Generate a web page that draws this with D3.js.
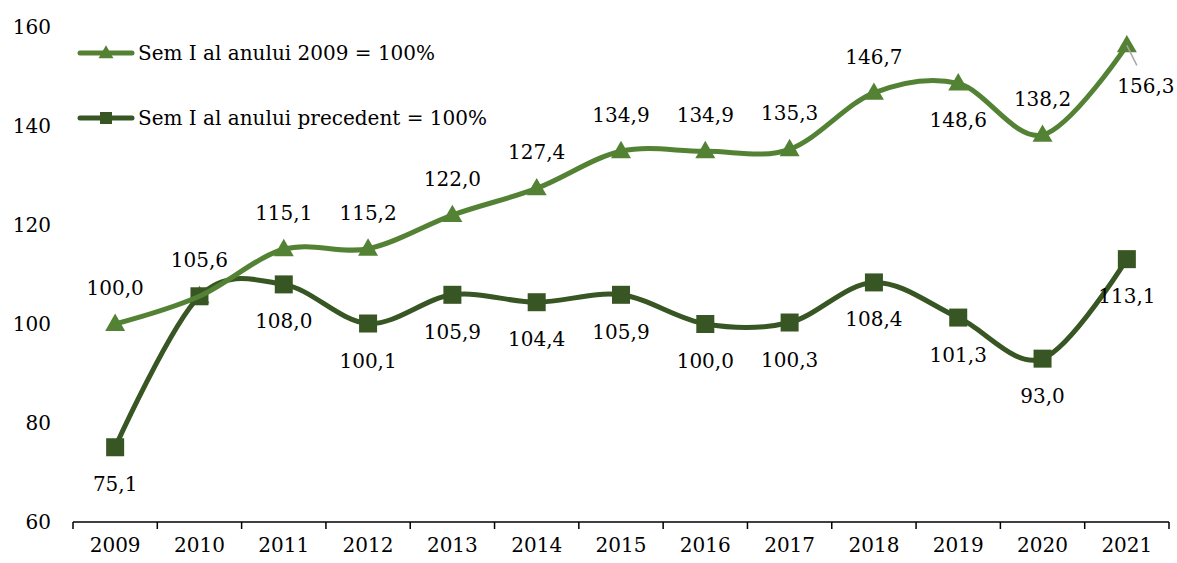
<!DOCTYPE html>
<html>
<head>
<meta charset="utf-8">
<script src="https://cdn.jsdelivr.net/npm/d3@7"></script>
<style>
  body { margin: 0; background: #fff; }
  svg { display: block; }
  text { font-family: "DejaVu Serif", serif; fill: #000; }
</style>
</head>
<body>
<svg id="chart" width="1177" height="563"></svg>
<script>
const years = ["2009","2010","2011","2012","2013","2014","2015","2016","2017","2018","2019","2020","2021"];
const series1Name = "Sem I al anului 2009 = 100%";
const series2Name = "Sem I al anului precedent = 100%";
const series1 = [100.0, 105.6, 115.1, 115.2, 122.0, 127.4, 134.9, 134.9, 135.3, 146.7, 148.6, 138.2, 156.3];
const series2 = [75.1, 105.6, 108.0, 100.1, 105.9, 104.4, 105.9, 100.0, 100.3, 108.4, 101.3, 93.0, 113.1];
const yTicks = [60, 80, 100, 120, 140, 160];
// label placement hints
const labelPos1 = ["above","above","above","above","above","above","above","above","above","above","below","above","leader"];
const labelPos2 = ["below","none","below","below","below","below","below","below","below","below","below","below","below"];

const svg = d3.select("#chart");
const colors = { s1: "#548235", s2: "#375623" };
const FS = 20;

const x = d3.scaleBand().domain(years).range([73, 1169]).padding(0);
const y = d3.scaleLinear().domain([60, 160]).range([522, 27]);
const cx = d => x(d) + x.bandwidth() / 2;
const fmt = v => d3.format(".1f")(v).replace(".", ",");

// X axis
const gx = svg.append("g").attr("transform", "translate(0,522)");
gx.append("line").attr("x1", 73).attr("x2", 1169).attr("y1", 0).attr("y2", 0)
  .attr("stroke", "#000").attr("stroke-width", 1.5);
const boundaries = years.map(d => x(d)).concat([x(years[years.length - 1]) + x.bandwidth()]);
gx.selectAll("line.tk").data(boundaries).enter().append("line").attr("class", "tk")
  .attr("x1", d => d).attr("x2", d => d).attr("y1", 0).attr("y2", 7)
  .attr("stroke", "#000").attr("stroke-width", 1.5);
gx.selectAll("text.xl").data(years).enter().append("text").attr("class", "xl")
  .attr("x", d => cx(d)).attr("y", 30).attr("text-anchor", "middle")
  .attr("font-size", FS).text(d => d);

// Y labels
svg.selectAll("text.yl").data(yTicks).enter().append("text").attr("class", "yl")
  .attr("x", 51).attr("y", d => y(d)).attr("dy", "0.35em").attr("text-anchor", "end")
  .attr("font-size", FS).text(d => d);

const line = d3.line().x((d, i) => cx(years[i])).y(d => y(d)).curve(d3.curveCatmullRom.alpha(0));

function tri(size) {
  const h = size * 0.87;
  return `M0,${-h * 0.6} L${size / 2},${h * 0.4} L${-size / 2},${h * 0.4} Z`;
}

// draw order: S1 markers, S2 line + markers, S1 line
svg.selectAll("path.m1").data(series1).enter().append("path").attr("class", "m1")
  .attr("transform", (d, i) => `translate(${cx(years[i])},${y(d)})`)
  .attr("d", tri(20)).attr("fill", colors.s1);
svg.append("path").datum(series2).attr("d", line).attr("fill", "none")
  .attr("stroke", colors.s2).attr("stroke-width", 5).attr("stroke-linecap", "round");
svg.selectAll("rect.m2").data(series2).enter().append("rect").attr("class", "m2")
  .attr("x", (d, i) => cx(years[i]) - 9).attr("y", d => y(d) - 9)
  .attr("width", 18).attr("height", 18).attr("fill", colors.s2);
svg.append("path").datum(series1).attr("d", line).attr("fill", "none")
  .attr("stroke", colors.s1).attr("stroke-width", 5).attr("stroke-linecap", "round");

// leader line for last S1 label
series1.forEach((v, i) => {
  if (labelPos1[i] === "leader") {
    svg.append("line").attr("x1", cx(years[i])).attr("y1", y(v))
      .attr("x2", cx(years[i]) + 10).attr("y2", y(v) + 20)
      .attr("stroke", "#a6a6a6").attr("stroke-width", 1.5);
  }
});

// data labels
function addLabels(data, pos) {
  data.forEach((v, i) => {
    const p = pos[i];
    if (p === "none") return;
    let lx = cx(years[i]), ly = y(v);
    if (p === "above") ly -= 36;
    else if (p === "below") ly += 37;
    else if (p === "leader") { lx += 19; ly += 41; }
    svg.append("text").attr("x", lx).attr("y", ly).attr("dy", "0.35em")
      .attr("text-anchor", "middle").attr("font-size", FS).text(fmt(v));
  });
}
addLabels(series1, labelPos1);
addLabels(series2, labelPos2);

// legend
const legend = [
  { name: series1Name, color: colors.s1, type: "tri", y: 53 },
  { name: series2Name, color: colors.s2, type: "sq", y: 118 }
];
const lg = svg.selectAll("g.lg").data(legend).enter().append("g").attr("class", "lg")
  .attr("transform", d => `translate(0,${d.y})`);
lg.append("line").attr("x1", 80).attr("x2", 132).attr("y1", 0).attr("y2", 0)
  .attr("stroke", d => d.color).attr("stroke-width", 5).attr("stroke-linecap", "round");
lg.each(function(d) {
  const g = d3.select(this);
  if (d.type === "tri") g.append("path").attr("transform", "translate(106,0)").attr("d", tri(15)).attr("fill", d.color);
  else g.append("rect").attr("x", 100).attr("y", -6).attr("width", 12).attr("height", 12).attr("fill", d.color);
});
lg.append("text").attr("x", 138).attr("y", 0).attr("dy", "0.35em").attr("font-size", FS)
  .text(d => d.name);
</script>
</body>
</html>
